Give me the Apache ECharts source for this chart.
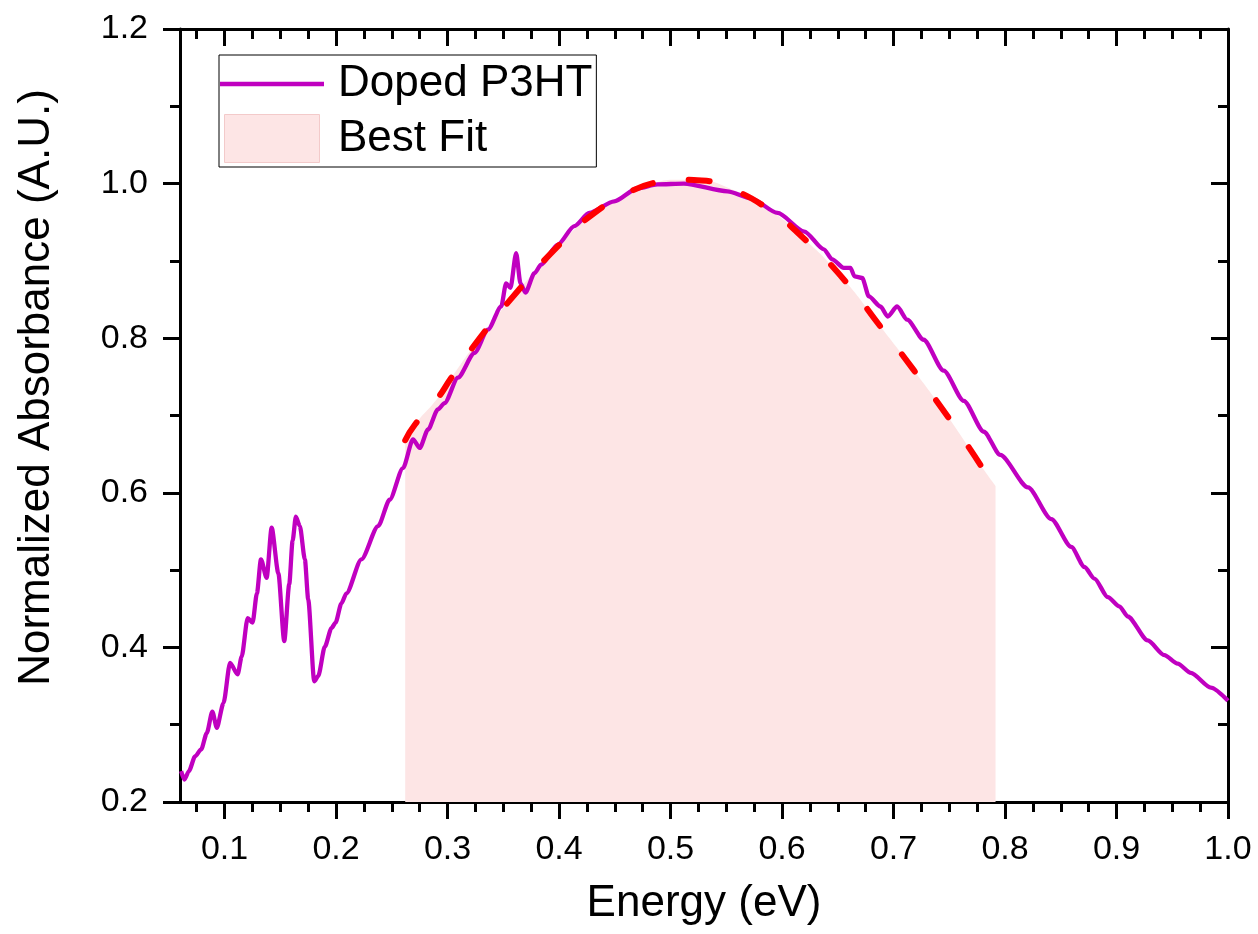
<!DOCTYPE html>
<html>
<head>
<meta charset="utf-8">
<title>Doped P3HT absorbance</title>
<script src="https://cdn.jsdelivr.net/npm/echarts@6/dist/echarts.min.js"></script>
<style>
  html, body { margin: 0; padding: 0; background: #fff; }
  #chart { width: 1258px; height: 934px; }
</style>
</head>
<body>
<div id="chart"></div>
<script>
// Measured absorption spectrum of doped P3HT: photon energy (eV) and normalized absorbance
const spectrumEnergy = [
  0.061, 0.064, 0.068, 0.0735, 0.079, 0.084, 0.089, 0.093, 0.099, 0.1049,
  0.1117, 0.1153, 0.1207, 0.1251, 0.129, 0.1326, 0.1377, 0.1422, 0.1482, 0.1535,
  0.158, 0.161, 0.1639, 0.1675, 0.172, 0.175, 0.1804, 0.184, 0.1899, 0.1959,
  0.1995, 0.2048, 0.2093, 0.2227, 0.2377, 0.2481, 0.26, 0.269, 0.275, 0.2825,
  0.2914, 0.2973, 0.3093, 0.3242, 0.3362, 0.3481, 0.3525, 0.3564, 0.3615, 0.3654,
  0.3698, 0.3779, 0.3839, 0.3988, 0.4137, 0.4271, 0.4495, 0.4704, 0.4883, 0.512,
  0.551, 0.572, 0.596, 0.62, 0.6375, 0.645, 0.6554, 0.6614, 0.665, 0.6719,
  0.6779, 0.6883, 0.6948, 0.7032, 0.7122, 0.727, 0.745, 0.763, 0.781, 0.7957,
  0.8206, 0.8415, 0.8594, 0.8713, 0.8802, 0.8922, 0.9026, 0.9101, 0.928, 0.9429,
  0.9548, 0.9667, 0.9846, 1.0
];
const spectrumAbsorbance = [
  0.240, 0.229, 0.240, 0.259, 0.268, 0.289, 0.317, 0.296, 0.328, 0.380,
  0.365, 0.388, 0.438, 0.432, 0.470, 0.514, 0.490, 0.555, 0.496, 0.408,
  0.482, 0.538, 0.569, 0.557, 0.514, 0.462, 0.356, 0.363, 0.401, 0.425,
  0.432, 0.457, 0.470, 0.514, 0.557, 0.591, 0.632, 0.669, 0.658, 0.682,
  0.708, 0.716, 0.749, 0.781, 0.811, 0.841, 0.871, 0.865, 0.910, 0.871,
  0.859, 0.884, 0.895, 0.921, 0.945, 0.962, 0.977, 0.994, 0.999, 1.000,
  0.990, 0.981, 0.962, 0.938, 0.915, 0.902, 0.891, 0.891, 0.880, 0.878,
  0.854, 0.841, 0.828, 0.841, 0.824, 0.798, 0.758, 0.719, 0.679, 0.649,
  0.607, 0.566, 0.530, 0.504, 0.489, 0.465, 0.453, 0.440, 0.409, 0.390,
  0.379, 0.367, 0.348, 0.331
];

// Best-fit curve over the fitted window
const fitEnergy = [
  0.262, 0.2706, 0.2914, 0.3032, 0.3325, 0.3665, 0.4003, 0.4316, 0.4644, 0.4853,
  0.5063, 0.528, 0.548, 0.5868, 0.6196, 0.6554, 0.6883, 0.718, 0.7494, 0.778, 0.7915
];
const fitAbsorbance = [
  0.668, 0.688, 0.723, 0.7485, 0.807, 0.867, 0.921, 0.962, 0.990, 1.001,
  1.005, 1.004, 0.997, 0.968, 0.929, 0.876, 0.815, 0.759, 0.697, 0.636, 0.609
];

// Axis ticks
const xTickLabels = [0.1, 0.2, 0.3, 0.4, 0.5, 0.6, 0.7, 0.8, 0.9, 1.0];
const yTickLabels = [0.2, 0.4, 0.6, 0.8, 1.0, 1.2];

const X_MIN = 0.06, X_MAX = 1.0;
const Y_MIN = 0.2, Y_MAX = 1.2;

// minor ticks every 0.025 eV, skipping the labelled positions
const xMinorTicks = [];
for (let k = 0; k * 0.025 + 0.075 < X_MAX - 1e-9; k++) {
  const v = +(0.075 + k * 0.025).toFixed(3);
  if (Math.abs(v * 10 - Math.round(v * 10)) > 1e-6) xMinorTicks.push(v);
}

const spectrum = spectrumEnergy.map((e, i) => [e, spectrumAbsorbance[i]]);
const fit = fitEnergy.map((e, i) => [e, fitAbsorbance[i]]);
const fitDashed = fit.filter(p => p[0] <= 0.78);

const FONT = 'Liberation Sans, Arial, Helvetica, sans-serif';
const PURPLE = '#c000c0';
const RED = '#ff0000';
const PINK = '#fde5e5';

const axisLineStyle = { show: true, lineStyle: { color: '#000', width: 3 } };
const tickLine = { color: '#000', width: 3 };

function xAxisBase(extra) {
  return Object.assign({
    type: 'value', min: X_MIN, max: X_MAX, gridIndex: 0,
    splitLine: { show: false }
  }, extra);
}
function yAxisBase(extra) {
  return Object.assign({
    type: 'value', min: Y_MIN, max: Y_MAX, interval: 0.2, gridIndex: 0,
    splitLine: { show: false }, minorSplitLine: { show: false }
  }, extra);
}

const chart = echarts.init(document.getElementById('chart'), null, { renderer: 'canvas' });

chart.setOption({
  animation: false,
  backgroundColor: '#fff',
  textStyle: { fontFamily: FONT, color: '#000' },
  grid: { left: 180, right: 30, top: 29, bottom: 132 },
  legend: {
    left: 219, top: 55, orient: 'vertical',
    padding: [7, 4, 4, 1],
    itemWidth: 104, itemHeight: 48, itemGap: 8,
    borderColor: '#000', borderWidth: 1, backgroundColor: '#fff',
    textStyle: { fontFamily: FONT, fontSize: 44, color: '#000', padding: [0, 0, 0, 9] },
    data: [
      { name: 'Doped P3HT', icon: 'path://M0,22H100V26.3H0Z', itemStyle: { color: PURPLE, borderWidth: 0 } },
      { name: 'Best Fit', icon: 'path://M4,0H99V48H4Z', itemStyle: { color: PINK, borderColor: '#f3caca', borderWidth: 1, opacity: 1 } }
    ]
  },
  xAxis: [
    xAxisBase({
      position: 'bottom',
      axisLine: axisLineStyle,
      axisTick: { show: true, inside: false, length: 17, lineStyle: tickLine, customValues: xTickLabels },
      axisLabel: {
        show: true, customValues: xTickLabels, fontSize: 34, color: '#000', margin: 31,
        fontFamily: FONT, formatter: v => v.toFixed(1)
      },
      name: 'Energy (eV)', nameLocation: 'middle', nameGap: 80,
      nameTextStyle: { fontSize: 44, color: '#000', fontFamily: FONT }
    }),
    xAxisBase({
      position: 'bottom',
      axisLine: { show: false },
      axisTick: { show: true, inside: false, length: 10, lineStyle: tickLine, customValues: xMinorTicks },
      axisLabel: { show: false }
    }),
    xAxisBase({
      position: 'top',
      axisLine: axisLineStyle,
      axisTick: { show: true, inside: true, length: 17, lineStyle: tickLine, customValues: xTickLabels },
      axisLabel: { show: false }
    }),
    xAxisBase({
      position: 'top',
      axisLine: { show: false },
      axisTick: { show: true, inside: true, length: 10, lineStyle: tickLine, customValues: xMinorTicks },
      axisLabel: { show: false }
    })
  ],
  yAxis: [
    yAxisBase({
      position: 'left',
      axisLine: axisLineStyle,
      axisTick: { show: true, inside: false, length: 17, lineStyle: tickLine },
      minorTick: { show: true, splitNumber: 2, length: 10, lineStyle: tickLine },
      axisLabel: {
        show: true, fontSize: 34, color: '#000', margin: 32, fontFamily: FONT,
        customValues: yTickLabels, formatter: v => v.toFixed(1)
      },
      name: 'Normalized Absorbance (A.U.)', nameLocation: 'middle', nameGap: 121,
      nameTextStyle: { fontSize: 44, color: '#000', fontFamily: FONT, padding: [0, 0, 0, 56] }
    }),
    yAxisBase({
      position: 'right',
      axisLine: axisLineStyle,
      axisTick: { show: true, inside: true, length: 17, lineStyle: tickLine },
      minorTick: { show: true, splitNumber: 2, length: 10, lineStyle: tickLine },
      axisLabel: { show: false }
    })
  ],
  series: [
    {
      name: 'Best Fit', type: 'line', xAxisIndex: 0, yAxisIndex: 0,
      data: fit, smooth: true, symbol: 'none',
      itemStyle: { color: PINK },
      lineStyle: { width: 0, opacity: 0 },
      areaStyle: { color: PINK, opacity: 1, origin: 'start' },
      z: 1
    },
    {
      name: 'Doped P3HT', type: 'line', xAxisIndex: 0, yAxisIndex: 0,
      data: spectrum, smooth: 0.25, smoothMonotone: 'x', symbol: 'none',
      itemStyle: { color: PURPLE },
      lineStyle: { color: PURPLE, width: 4.3 },
      z: 2
    },
    {
      name: 'Fit curve', type: 'line', xAxisIndex: 0, yAxisIndex: 0,
      data: fitDashed, smooth: true, symbol: 'none',
      itemStyle: { color: RED },
      lineStyle: { color: RED, width: 6, type: [21, 36], cap: 'round' },
      z: 3
    }
  ]
});
</script>
</body>
</html>
